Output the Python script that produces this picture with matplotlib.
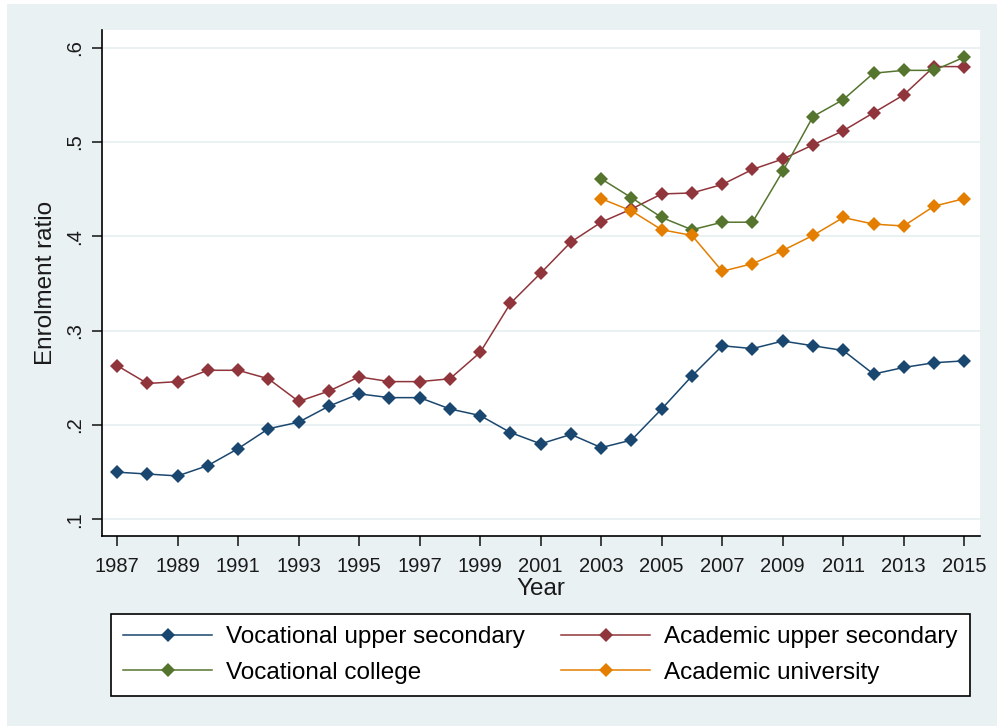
import matplotlib
matplotlib.use("Agg")
import matplotlib.pyplot as plt
from matplotlib.patches import Rectangle

years = list(range(1987, 2016))
years_post = list(range(2003, 2016))

voc_upper = [0.150, 0.148, 0.146, 0.157, 0.175, 0.196, 0.203, 0.220, 0.233, 0.229,
             0.229, 0.217, 0.210, 0.192, 0.180, 0.190, 0.176, 0.184, 0.217, 0.252,
             0.284, 0.281, 0.289, 0.284, 0.279, 0.254, 0.261, 0.266, 0.268]
acad_upper = [0.263, 0.244, 0.246, 0.258, 0.258, 0.249, 0.225, 0.236, 0.251, 0.246,
              0.246, 0.249, 0.277, 0.329, 0.361, 0.394, 0.415, 0.429, 0.445, 0.446,
              0.455, 0.471, 0.482, 0.497, 0.512, 0.531, 0.550, 0.580, 0.580]
voc_college = [0.461, 0.441, 0.420, 0.407, 0.415, 0.415, 0.469, 0.527, 0.545,
               0.573, 0.576, 0.576, 0.590]
acad_univ = [0.440, 0.427, 0.407, 0.401, 0.363, 0.371, 0.385, 0.401, 0.420,
             0.413, 0.411, 0.432, 0.440]

labels = ["Vocational upper secondary", "Academic upper secondary",
          "Vocational college", "Academic university"]
colors = ["#1a476f", "#90353b", "#55752f", "#e37e00"]

xticks = list(range(1987, 2016, 2))
yticks = [0.1, 0.2, 0.3, 0.4, 0.5, 0.6]
ytick_labels = [".1", ".2", ".3", ".4", ".5", ".6"]

plt.rcParams['font.family'] = ['Liberation Sans', 'DejaVu Sans']

W, H = 997, 726
fig = plt.figure(figsize=(W / 100, H / 100), dpi=100)
fig.patch.set_facecolor("white")
bg = "#e9f1f3"
fig.patches.append(Rectangle((7 / W, 0), 1 - 7 / W, 1 - 4 / H, transform=fig.transFigure,
                             facecolor=bg, edgecolor="none", zorder=-10))

ax = fig.add_axes([102 / W, (H - 536) / H, 878 / W, 506 / H])
ax.set_facecolor("white")

series = [(years, voc_upper), (years, acad_upper), (years_post, voc_college), (years_post, acad_univ)]
handles = []
for (xs, ys), lab, c in zip(series, labels, colors):
    h, = ax.plot(xs, ys, color=c, lw=1.1, marker="D", markersize=7, markeredgewidth=0,
                 label=lab, zorder=3)
    handles.append(h)

ax.set_xlim(1986.5, 2015.52)
ax.set_ylim(0.0823, 0.6188)
ax.set_xticks(xticks)
ax.set_xticklabels([str(x) for x in xticks])
ax.set_yticks(yticks)
ax.set_yticklabels(ytick_labels, rotation=90, va="center")
ax.grid(axis="y", color="#e6eff1", lw=1.2, zorder=0)
ax.set_axisbelow(True)
for s in ["top", "right"]:
    ax.spines[s].set_visible(False)
for s in ["left", "bottom"]:
    ax.spines[s].set_color("black")
    ax.spines[s].set_linewidth(1.2)
ax.tick_params(axis="both", direction="out", length=7, width=1.2, color="#222222",
               labelsize=14.5, labelcolor="#1a1a1a")
ax.tick_params(axis="x", pad=8)
ax.tick_params(axis="y", pad=6)
ax.set_xlabel("Year", fontsize=17.5, labelpad=1.5, color="#1a1a1a")
ax.set_ylabel("Enrolment ratio", fontsize=17.5, labelpad=6, color="#1a1a1a")

order = [0, 2, 1, 3]
leg = fig.legend([handles[i] for i in order], [labels[i] for i in order],
                 loc="center", bbox_to_anchor=(540.5 / W, (H - 655) / H),
                 ncol=2, fontsize=17.5, frameon=True, fancybox=False, framealpha=1,
                 edgecolor="black", handlelength=3.66, numpoints=1, borderaxespad=0,
                 borderpad=0.5, labelspacing=0.55, handletextpad=0.58, columnspacing=1.5)
leg.get_frame().set_linewidth(1.2)
leg.get_frame().set_facecolor("white")

fig.savefig("out.png", dpi=100, facecolor=fig.get_facecolor())
